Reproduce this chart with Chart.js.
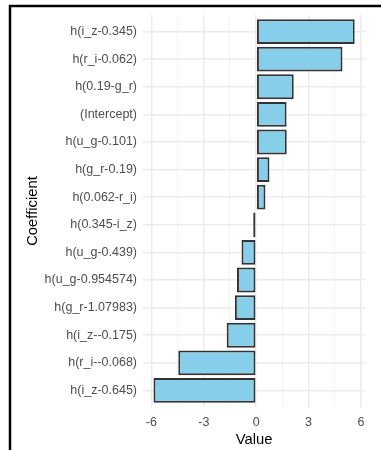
<!DOCTYPE html>
<html>
<head>
<meta charset="utf-8">
<script src="https://cdn.jsdelivr.net/npm/chart.js@4/dist/chart.umd.min.js"></script>
<style>
  html, body { margin: 0; padding: 0; background: #fff; }
  #wrap { position: relative; width: 381px; height: 450px; }
  canvas { display: block; }
</style>
</head>
<body>
<div id="wrap"><canvas id="c" width="381" height="450"></canvas></div>
<script>
// Model coefficients, ordered top to bottom
const coefficients = [
  "h(i_z-0.345)", "h(r_i-0.062)", "h(0.19-g_r)", "(Intercept)", "h(u_g-0.101)",
  "h(g_r-0.19)", "h(0.062-r_i)", "h(0.345-i_z)", "h(u_g-0.439)", "h(u_g-0.954574)",
  "h(g_r-1.07983)", "h(i_z--0.175)", "h(r_i--0.068)", "h(i_z-0.645)"
];
const values = [5.64, 4.94, 2.15, 1.74, 1.75, 0.76, 0.53, -0.17, -0.84, -1.10, -1.22, -1.69, -4.46, -5.88];
const valueTicks = [-6, -3, 0, 3, 6];
const minorTicks = [-4.5, -1.5, 1.5, 4.5];

// Frame lines along the top and left edge of the figure
const framePlugin = {
  id: 'frame',
  afterDraw(chart) {
    const ctx = chart.ctx;
    ctx.save();
    ctx.strokeStyle = '#000';
    ctx.lineWidth = 2.5;
    ctx.beginPath();
    ctx.moveTo(10, 450);
    ctx.lineTo(10, 6);
    ctx.lineTo(381, 6);
    ctx.stroke();
    ctx.restore();
  }
};

const gridMajor = '#ebebeb';
const gridMinor = '#f3f3f3';
const fontFamily = 'Liberation Sans, Arial, sans-serif';

new Chart(document.getElementById('c'), {
  type: 'bar',
  data: {
    datasets: [{
      data: values.map((v, i) => ({ x: v, y: i })),
      backgroundColor: '#87ceeb',
      borderColor: '#333333',
      borderWidth: 2,
      borderSkipped: false,
      barPercentage: 0.9,
      categoryPercentage: 1.0
    }]
  },
  options: {
    indexAxis: 'y',
    responsive: false,
    animation: false,
    devicePixelRatio: 1,
    layout: { padding: { top: 15, right: 16, bottom: 0, left: 0 } },
    plugins: { legend: { display: false }, tooltip: { enabled: false } },
    scales: {
      x: {
        type: 'linear',
        min: -6.48,
        max: 6.23,
        offset: false,
        afterBuildTicks(scale) {
          scale.ticks = valueTicks.concat(minorTicks).sort((a, b) => a - b).map(v => ({ value: v }));
        },
        afterFit(scale) { scale.height = 43; },
        ticks: {
          autoSkip: false,
          maxRotation: 0,
          padding: 8,
          color: '#4d4d4d',
          font: { family: fontFamily, size: 12.5 },
          callback: (v) => valueTicks.includes(v) ? String(v) : ''
        },
        grid: {
          drawTicks: false,
          offset: false,
          color: (c) => valueTicks.includes(c.tick.value) ? gridMajor : gridMinor,
          lineWidth: (c) => valueTicks.includes(c.tick.value) ? 1.5 : 1
        },
        border: { display: false },
        title: {
          display: true,
          text: 'Value',
          color: '#000',
          font: { family: fontFamily, size: 14.8 },
          padding: { top: 0, bottom: 1 }
        }
      },
      y: {
        type: 'linear',
        reverse: true,
        offset: false,
        min: -0.6,
        max: coefficients.length - 1 + 0.6,
        afterBuildTicks(scale) {
          scale.ticks = coefficients.map((_, i) => ({ value: i }));
        },
        afterFit(scale) { scale.width = 143; },
        ticks: {
          autoSkip: false,
          padding: 6,
          color: '#4d4d4d',
          font: { family: fontFamily, size: 12.5 },
          callback: (v) => coefficients[v]
        },
        grid: { drawTicks: false, offset: false, color: gridMajor, lineWidth: 1.5 },
        border: { display: false },
        title: {
          display: true,
          text: 'Coefficient',
          color: '#000',
          font: { family: fontFamily, size: 14.8 },
          padding: { top: 24, bottom: 0 }
        }
      }
    }
  },
  plugins: [framePlugin]
});
</script>
</body>
</html>
